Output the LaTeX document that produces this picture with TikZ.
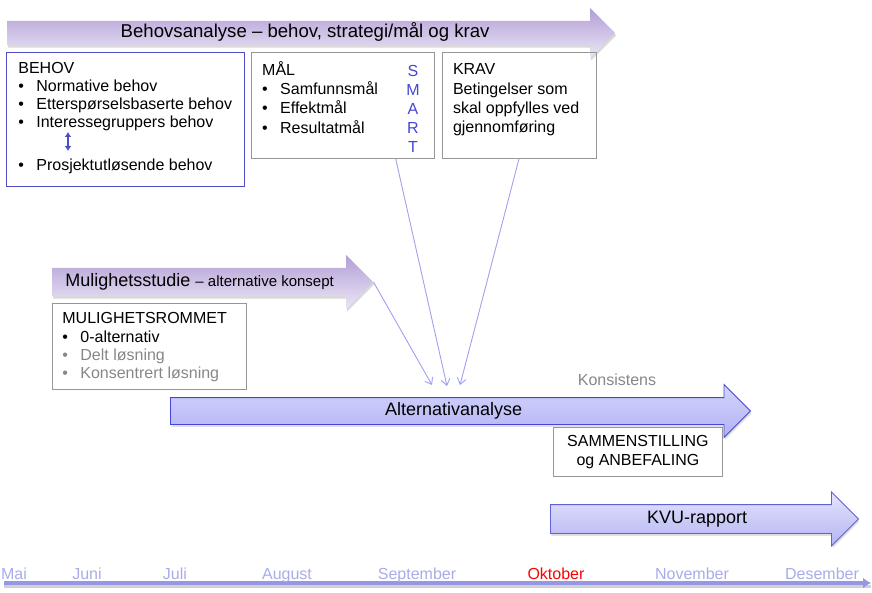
\documentclass[tikz,border=0pt]{standalone}
\usepackage{fontspec}
\setmainfont{Liberation Sans}
\usetikzlibrary{positioning}
\usetikzlibrary{shapes.arrows}
\usetikzlibrary{arrows.meta}
\usetikzlibrary{shadows}
\definecolor{lilactop}{RGB}{178,158,214}
\definecolor{lilacbot}{RGB}{236,231,245}
\definecolor{periwtop}{RGB}{212,212,252}
\definecolor{periwbot}{RGB}{178,178,244}
\definecolor{periwdraw}{RGB}{70,70,214}
\definecolor{kvutop}{RGB}{228,228,253}
\definecolor{kvubot}{RGB}{180,180,243}
\definecolor{kvudraw}{RGB}{96,96,216}
\definecolor{linkcol}{RGB}{160,160,238}
\definecolor{behovblue}{RGB}{78,78,196}
\definecolor{boxgrey}{RGB}{150,150,150}
\definecolor{smartblue}{RGB}{70,70,210}
\definecolor{monthcol}{RGB}{168,172,232}
\definecolor{timecol}{RGB}{150,150,228}
\definecolor{dimtext}{RGB}{135,135,135}
\newcommand\itm[1]{\makebox[18pt][l]{\textbullet}#1}
\tikzset{%
  phasearrow/.style={single arrow,single arrow head extend=13pt,top color=lilactop,bottom color=lilacbot,inner xsep=0pt,text height=13pt,text depth=4pt,inner ysep=3.5pt,drop shadow={shadow xshift=1pt,shadow yshift=-2.5pt,opacity=0.3}}
}
\tikzset{%
  bluearrow/.style={single arrow,single arrow head extend=13pt,top color=periwtop,bottom color=periwbot,draw=periwdraw,line width=0.9pt,inner xsep=0pt,drop shadow={shadow xshift=1pt,shadow yshift=-2.5pt,opacity=0.25}}
}
\tikzset{%
  infobox/.style={rectangle,draw=boxgrey,line width=0.8pt,inner xsep=11pt,inner ysep=9pt,anchor=north west},
  behovbox/.style={infobox,draw=behovblue,inner xsep=12pt}
}
\tikzset{%
  link/.style={draw=linkcol,line width=0.9pt,-{Straight Barb[length=6pt,width=9pt]}},
  updown/.style={draw=behovblue,line width=1.8pt,{Latex[length=5pt,width=7pt]}-{Latex[length=5pt,width=7pt]}},
  timeline/.style={draw=timecol,line width=3.5pt,-{Latex[length=8pt,width=11pt]},preaction={draw=black!18,line width=3pt,-,transform canvas={yshift=-3pt}}},
  month/.style={font=\fontsize{16}{17}\selectfont,text=monthcol,inner sep=0pt,anchor=base}
}

\begin{document}
\begin{tikzpicture}[x=1pt,y=-1pt]
  \useasboundingbox (0,0) rectangle (872,593);

  \node[phasearrow,minimum height=608pt,anchor=tail] (behovsanalyse) at (7,33) {\fontsize{18.6}{20}\selectfont Behovsanalyse – behov, strategi/mål og krav};

  \node[behovbox] (behov) at (6,52) {\parbox[c][116pt][t]{214pt}{\fontsize{16}{18}\selectfont\strut BEHOV\\ \itm{Normative behov}\\ \itm{Etterspørselsbaserte behov}\\ \itm{Interessegruppers behov}\\[25pt] \itm{Prosjektutløsende behov}}};
  \node[infobox,right=6pt of behov.north east,anchor=north west] (maal) {\parbox[c][88pt][t]{161pt}{\fontsize{16}{19.3}\selectfont\strut MÅL\\ \itm{Samfunnsmål}\\ \itm{Effektmål}\\ \itm{Resultatmål}}};
  \node[infobox,right=7pt of maal] (krav) {\parbox[c][88pt][t]{132pt}{\fontsize{16}{19.3}\selectfont\strut KRAV\\ Betingelser som\\ skal oppfylles ved\\ gjennomføring}};
  \node[font=\fontsize{16}{19}\selectfont,text=smartblue,align=center] (smart) at (413,109) {S\\M\\A\\R\\T};

  \coordinate (ud1) at (68,132);
  \coordinate (ud2) at (68,151);
  \draw[updown] (ud1) -- (ud2);

  \node[phasearrow,minimum height=321pt,text height=14pt,text depth=4.5pt,inner ysep=4.75pt,anchor=tail] (mulighet) at (52,282) {\fontsize{18}{20}\selectfont Mulighetsstudie {\fontsize{15}{16}\selectfont – alternative konsept}\hspace*{12pt}};
  \node[infobox,inner xsep=10pt,inner ysep=7.7pt] (rommet) at (52,303) {\parbox[c][70.6pt][t]{174pt}{\fontsize{16}{18.3}\selectfont\strut MULIGHETSROMMET\\ \itm{0-alternativ}\\ \textcolor{dimtext}{\itm{Delt løsning}}\\ \textcolor{dimtext}{\itm{Konsentrert løsning}}}};

  \node[bluearrow,minimum height=580pt,text height=13pt,text depth=4pt,inner ysep=4.5pt,anchor=tail] (alternativ) at (170,411) {\fontsize{18}{20}\selectfont Alternativanalyse};
  \node[text=dimtext,font=\fontsize{16}{17}\selectfont] (konsistens) at (617,380) {Konsistens};
  \node[infobox,align=center,minimum width=169pt,minimum height=49pt,inner ysep=4pt,font=\fontsize{16}{19}\selectfont] (sammen) at (553,427) {SAMMENSTILLING\\og ANBEFALING};

  \node[bluearrow,minimum height=308pt,single arrow head extend=12.5pt,text height=13pt,text depth=4.5pt,inner ysep=5.25pt,top color=kvutop,bottom color=kvubot,draw=kvudraw,anchor=tail] (kvu) at (550,519) {\fontsize{18}{20}\selectfont KVU-rapport};

  \coordinate (hit1) at (432,385);
  \coordinate (hit2) at (447,386);
  \coordinate (hit3) at (460,385);
  \draw[link] (mulighet.tip) -- (hit1);
  \draw[link] ([xshift=53pt]maal.south) -- (hit2);
  \draw[link] (krav.south) -- (hit3);

  \coordinate (tlstart) at (4,583);
  \coordinate (tlend) at (871,583);
  \draw[timeline] (tlstart) -- (tlend);
  \foreach \x/\mon in {14/Mai,87/Juni,175/Juli,287/August,417/September,692/November,822/Desember}
    \node[month] (m-\mon) at (\x,579.5) {\mon};
  \node[month,text=red] (m-Oktober) at (556,579.5) {Oktober};
\end{tikzpicture}
\end{document}
